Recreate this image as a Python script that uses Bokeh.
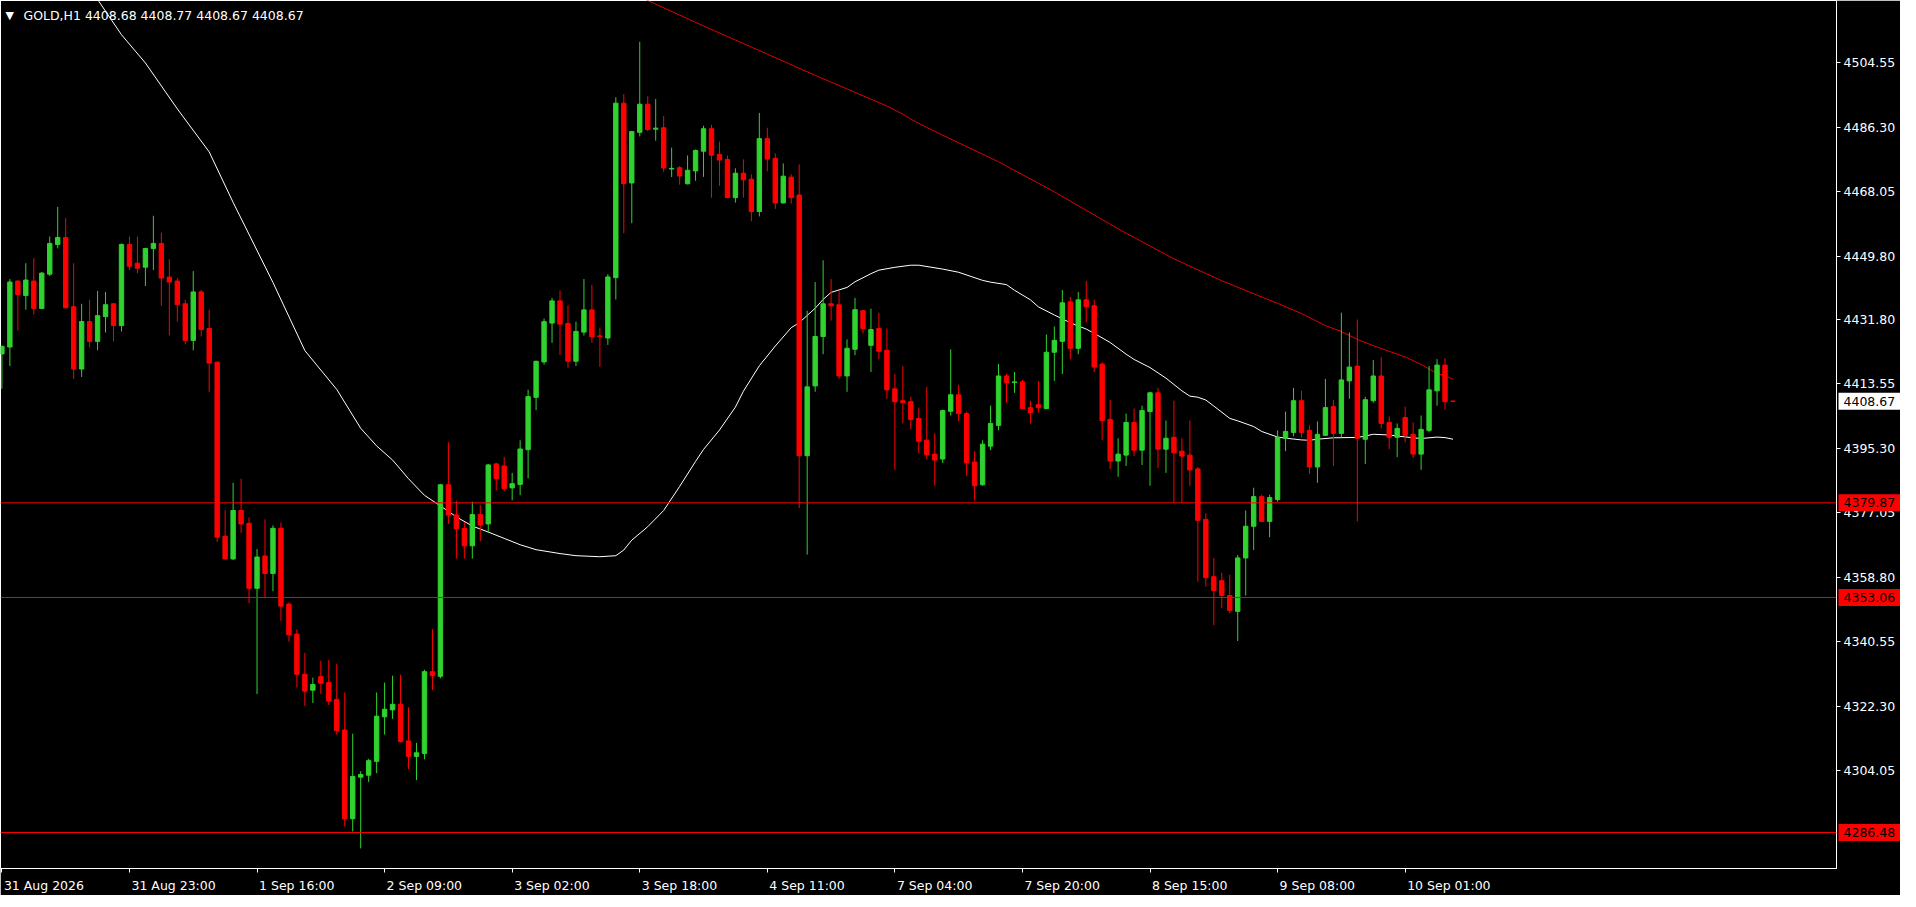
from bokeh.plotting import figure
from bokeh.layouts import row
from bokeh.models import (ColumnDataSource, FixedTicker, Range1d, Label, Span,
                          PrintfTickFormatter)
from bokeh.core.properties import value
from bokeh.embed import file_html
from bokeh.resources import INLINE

# ---------------- data ----------------
symbol_title = "GOLD,H1  4408.68 4408.77 4408.67 4408.67"

opens = [4422.07, 4424.03, 4442.71, 4438.60, 4442.71, 4434.96, 4444.67, 4453.08, 4455.04, 4435.43,
         4417.78, 4431.23, 4425.62, 4432.63, 4436.27, 4430.10, 4453.08, 4447.76, 4446.64, 4451.96,
         4453.36, 4443.83, 4442.71, 4436.27, 4425.90, 4439.63, 4429.26, 4419.74, 4370.42, 4363.98,
         4377.70, 4374.06, 4355.66, 4364.81, 4359.86, 4372.66, 4351.18, 4342.68, 4331.29, 4326.80,
         4330.63, 4328.95, 4324.19, 4315.50, 4290.38, 4302.15, 4302.71, 4306.63, 4319.24, 4321.20,
         4322.79, 4312.42, 4308.03, 4308.87, 4332.03, 4330.72, 4384.99, 4376.46, 4372.62, 4367.71,
         4376.55, 4373.90, 4390.90, 4390.31, 4384.12, 4385.10, 4394.93, 4409.77, 4419.80, 4430.80,
         4437.09, 4430.71, 4419.99, 4428.25, 4434.54, 4427.17, 4426.58, 4443.68, 4493.11, 4470.51,
         4484.86, 4492.82, 4485.74, 4486.14, 4474.44, 4474.83, 4470.27, 4473.91, 4479.51, 4485.86,
         4478.58, 4477.18, 4466.34, 4473.26, 4471.57, 4462.42, 4483.06, 4477.46, 4464.85, 4472.14,
         4467.09, 4393.21, 4413.00, 4427.00, 4436.27, 4435.99, 4415.82, 4423.38, 4434.31, 4424.50,
         4429.27, 4423.10, 4412.17, 4408.81, 4408.53, 4403.77, 4397.61, 4393.68, 4392.28, 4405.83,
         4410.49, 4405.17, 4391.44, 4385.00, 4395.93, 4401.81, 4415.82, 4413.95, 4414.14, 4406.85,
         4407.69, 4406.57, 4422.54, 4425.63, 4436.83, 4423.66, 4437.39, 4435.71, 4419.18, 4403.49,
         4391.72, 4393.40, 4402.65, 4394.80, 4405.73, 4411.05, 4395.08, 4398.44, 4394.52, 4393.40,
         4389.48, 4375.19, 4358.94, 4357.82, 4353.61, 4349.13, 4364.26, 4373.23, 4381.63, 4374.63,
         4380.79, 4398.16, 4399.84, 4408.81, 4400.40, 4390.04, 4399.00, 4407.13, 4399.56, 4414.42,
         4418.62, 4397.88, 4408.81, 4415.81, 4402.65, 4398.44, 4404.05, 4399.28, 4393.68, 4400.40,
         4411.61, 4418.90, 4408.68]
highs = [4424.40, 4443.27, 4442.90, 4447.76, 4449.16, 4445.24, 4455.32, 4463.73, 4460.65, 4447.76,
         4436.27, 4437.39, 4439.91, 4439.63, 4436.40, 4453.36, 4455.32, 4455.32, 4452.10, 4461.21,
         4456.44, 4448.88, 4443.55, 4437.39, 4445.52, 4440.19, 4434.59, 4419.90, 4377.71, 4385.55,
         4386.67, 4375.74, 4366.78, 4375.18, 4373.50, 4374.34, 4351.65, 4344.08, 4337.36, 4330.35,
         4335.11, 4335.39, 4334.27, 4326.15, 4314.47, 4303.83, 4307.38, 4326.15, 4328.95, 4330.91,
         4331.19, 4321.95, 4311.86, 4332.59, 4344.08, 4385.27, 4397.04, 4380.48, 4374.39, 4380.19,
         4379.31, 4390.90, 4391.20, 4392.87, 4388.35, 4397.58, 4411.94, 4420.10, 4432.08, 4437.98,
         4440.04, 4435.82, 4431.20, 4443.29, 4441.61, 4429.53, 4444.66, 4494.78, 4495.67, 4485.15,
         4510.51, 4495.08, 4494.29, 4489.48, 4480.53, 4475.32, 4478.30, 4479.98, 4486.70, 4486.98,
         4482.22, 4478.30, 4474.66, 4477.18, 4472.98, 4490.35, 4486.14, 4478.86, 4476.06, 4472.98,
         4475.78, 4434.31, 4442.43, 4448.60, 4443.27, 4439.91, 4426.18, 4437.95, 4434.59, 4434.87,
         4433.75, 4429.27, 4416.38, 4418.62, 4409.93, 4406.85, 4412.74, 4399.57, 4406.29, 4423.38,
         4413.30, 4405.73, 4394.52, 4397.61, 4407.41, 4419.18, 4416.38, 4416.94, 4414.70, 4408.81,
         4414.42, 4427.59, 4429.83, 4440.20, 4438.23, 4439.64, 4442.72, 4437.39, 4419.74, 4409.09,
         4398.17, 4405.17, 4406.57, 4407.41, 4411.34, 4412.46, 4403.21, 4408.81, 4398.16, 4403.21,
         4390.04, 4376.87, 4364.26, 4360.06, 4359.50, 4365.10, 4377.71, 4384.15, 4382.19, 4382.19,
         4400.41, 4405.73, 4412.45, 4411.61, 4401.81, 4402.93, 4414.98, 4409.09, 4433.75, 4428.14,
         4431.79, 4409.93, 4420.30, 4421.14, 4404.33, 4402.37, 4407.13, 4402.65, 4404.61, 4418.62,
         4420.58, 4420.86, 4408.77]
lows = [4412.17, 4418.62, 4428.70, 4434.59, 4433.19, 4434.80, 4444.11, 4451.96, 4434.96, 4414.98,
        4415.54, 4423.94, 4423.10, 4428.14, 4425.62, 4428.42, 4445.80, 4444.96, 4441.31, 4445.80,
        4435.71, 4427.30, 4431.23, 4424.78, 4423.10, 4427.02, 4411.33, 4368.74, 4363.90, 4363.70,
        4371.35, 4351.46, 4325.68, 4353.14, 4354.82, 4346.42, 4340.53, 4327.55, 4322.32, 4323.16,
        4325.68, 4322.60, 4314.19, 4288.14, 4286.74, 4281.97, 4300.74, 4303.27, 4314.19, 4318.68,
        4311.95, 4304.39, 4301.30, 4307.19, 4326.80, 4330.16, 4373.87, 4364.07, 4364.07, 4364.07,
        4368.99, 4371.35, 4383.43, 4383.14, 4380.58, 4382.06, 4386.78, 4406.13, 4419.01, 4425.20,
        4421.76, 4418.13, 4418.62, 4427.27, 4425.20, 4418.42, 4424.61, 4437.49, 4456.26, 4459.11,
        4483.68, 4485.15, 4482.50, 4473.65, 4472.18, 4470.02, 4470.10, 4471.11, 4472.23, 4466.34,
        4469.71, 4466.20, 4464.94, 4466.34, 4459.62, 4461.02, 4473.82, 4463.17, 4464.70, 4464.66,
        4378.37, 4365.20, 4411.33, 4421.98, 4431.51, 4414.98, 4411.33, 4421.70, 4427.86, 4416.94,
        4420.58, 4409.37, 4389.20, 4402.37, 4400.69, 4393.96, 4392.28, 4384.72, 4391.16, 4404.61,
        4402.93, 4387.52, 4380.52, 4384.72, 4394.80, 4400.41, 4408.25, 4411.05, 4406.50, 4402.37,
        4405.45, 4406.50, 4414.42, 4416.38, 4420.58, 4421.98, 4430.95, 4416.94, 4397.61, 4389.48,
        4387.24, 4390.32, 4393.12, 4390.60, 4384.72, 4389.76, 4388.36, 4379.95, 4379.95, 4384.71,
        4357.54, 4356.13, 4345.21, 4349.97, 4348.57, 4340.72, 4353.61, 4366.50, 4374.50, 4370.14,
        4380.23, 4394.52, 4398.72, 4398.44, 4388.08, 4385.55, 4398.90, 4390.32, 4398.44, 4409.37,
        4374.63, 4390.88, 4408.25, 4400.96, 4395.08, 4392.84, 4397.04, 4392.56, 4389.20, 4399.84,
        4407.41, 4406.29, 4408.67]
closes = [4424.22, 4442.43, 4438.88, 4443.00, 4434.96, 4444.96, 4453.36, 4455.04, 4435.15, 4417.78,
          4431.23, 4425.62, 4432.91, 4436.00, 4430.10, 4453.08, 4446.92, 4446.36, 4451.96, 4453.36,
          4443.55, 4442.43, 4436.00, 4425.90, 4439.63, 4428.98, 4419.46, 4370.14, 4363.98, 4377.71,
          4373.87, 4355.66, 4364.53, 4359.86, 4372.66, 4350.62, 4342.49, 4331.29, 4326.52, 4328.39,
          4328.76, 4323.72, 4315.32, 4290.38, 4302.33, 4302.89, 4306.82, 4319.42, 4321.39, 4322.79,
          4312.23, 4308.03, 4309.06, 4332.03, 4330.91, 4384.99, 4376.40, 4372.52, 4367.71, 4376.55,
          4373.60, 4390.61, 4386.78, 4383.92, 4385.30, 4395.13, 4409.97, 4419.99, 4431.20, 4437.09,
          4430.51, 4419.99, 4428.45, 4434.54, 4426.87, 4426.97, 4443.88, 4493.11, 4470.31, 4485.05,
          4492.82, 4485.64, 4486.04, 4474.74, 4474.64, 4472.47, 4474.10, 4479.70, 4485.86, 4478.39,
          4476.99, 4466.34, 4473.26, 4471.39, 4462.42, 4483.06, 4477.27, 4464.85, 4472.42, 4466.34,
          4393.21, 4412.73, 4427.00, 4436.27, 4435.71, 4415.82, 4423.66, 4434.59, 4429.27, 4428.98,
          4422.82, 4411.89, 4408.53, 4408.25, 4403.49, 4397.33, 4393.50, 4392.00, 4406.01, 4410.49,
          4405.17, 4391.16, 4384.72, 4396.49, 4402.37, 4415.82, 4413.86, 4414.14, 4406.57, 4405.45,
          4406.85, 4422.54, 4425.91, 4436.55, 4423.66, 4437.39, 4435.43, 4418.34, 4403.21, 4391.72,
          4393.68, 4402.65, 4394.80, 4406.01, 4411.05, 4395.08, 4398.17, 4394.05, 4393.12, 4389.20,
          4374.91, 4358.66, 4355.01, 4353.61, 4349.41, 4364.26, 4373.23, 4381.63, 4374.63, 4381.35,
          4398.44, 4400.12, 4408.81, 4399.84, 4390.04, 4399.28, 4406.85, 4399.56, 4414.69, 4418.34,
          4398.16, 4409.09, 4415.81, 4402.37, 4398.44, 4400.96, 4399.00, 4393.68, 4400.68, 4411.89,
          4418.90, 4408.53, 4408.67]

# fast moving average (white), read at bar indices
ma_fast_bars = [12, 15, 18, 22, 26, 29, 34, 38, 42, 45, 47, 49, 51, 53, 55, 57, 59, 61, 63, 65,
                67, 70, 72, 75, 77, 78, 79, 81, 83, 85, 87, 88, 90, 92, 93, 95, 97, 99, 100, 102,
                103, 104, 106, 107, 109, 110, 112, 114, 115, 118, 120, 123, 124, 126, 127, 129, 130,
                132, 134, 136, 137, 139, 141, 142, 144, 146, 148, 149, 150, 151, 152, 154, 155, 157,
                158, 160, 161, 163, 164, 165, 167, 170, 171, 172, 174, 175, 177, 178, 180, 181, 182]
ma_fast_vals = [4522.5, 4512.5, 4504.5, 4491.5, 4479.3, 4465.0, 4442.3, 4423.0, 4412.0, 4401.0,
                4396.0, 4392.0, 4386.7, 4382.0, 4379.0, 4375.9, 4373.3, 4371.6, 4369.8, 4368.0,
                4366.6, 4365.5, 4364.9, 4364.6, 4364.9, 4366.5, 4369.3, 4373.1, 4377.7, 4384.5,
                4391.6, 4395.0, 4400.5, 4407.0, 4411.5, 4418.7, 4424.3, 4429.5, 4430.9, 4435.0,
                4437.5, 4439.5, 4440.9, 4442.5, 4444.8, 4445.8, 4446.6, 4447.2, 4447.2, 4446.1,
                4445.2, 4442.9, 4442.4, 4441.7, 4440.1, 4437.4, 4435.4, 4433.1, 4430.9, 4429.1,
                4427.9, 4425.3, 4422.0, 4420.5, 4418.2, 4415.2, 4411.6, 4410.1, 4409.8, 4409.0,
                4407.3, 4403.8, 4403.1, 4401.5, 4400.1, 4398.5, 4398.2, 4397.7, 4397.6, 4397.9,
                4398.3, 4398.4, 4398.8, 4399.3, 4399.1, 4398.8, 4398.3, 4398.1, 4398.5, 4398.35,
                4397.9]
# slow moving average (red)
ma_slow_bars = [79, 81, 87, 95, 102, 108, 111, 113, 114, 116, 125, 132, 140, 147, 153, 158, 160,
                163, 166, 168, 170, 172, 174, 176, 178, 180, 181, 182]
ma_slow_vals = [4525.0, 4522.2, 4516.0, 4508.0, 4501.0, 4495.2, 4492.3, 4490.0, 4488.6, 4486.2,
                4476.5, 4468.0, 4457.5, 4449.0, 4442.8, 4438.2, 4436.4, 4433.5, 4430.1, 4428.4,
                4426.2, 4424.4, 4422.8, 4421.2, 4419.1, 4416.5, 4415.9, 4414.9]

price_ticks = [4504.55, 4486.30, 4468.05, 4449.80, 4431.80, 4413.55, 4395.30, 4377.05,
               4358.80, 4340.55, 4322.30, 4304.05]
time_tick_bars = [0, 16, 32, 48, 64, 80, 96, 112, 128, 144, 160, 176]
time_tick_labels = ["31 Aug 2026", "31 Aug 23:00", "1 Sep 16:00", "2 Sep 09:00", "3 Sep 02:00",
                    "3 Sep 18:00", "4 Sep 11:00", "7 Sep 04:00", "7 Sep 20:00", "8 Sep 15:00",
                    "9 Sep 08:00", "10 Sep 01:00"]
level_lines = [4379.87, 4353.06, 4286.48]
bid_price = 4408.67
price_min, price_max = 4276.27, 4522.20
bar_min, bar_max = -0.175, 230.1

# ---------------- styling / layout ----------------
FW, FH = 1836, 868       # plot frame
RW = 64                  # price-scale strip to the right of the frame
FONT = "DejaVu Sans"
FS = "12.5px"
BULL = "#2FD22F"
BEAR = "#FF0000"

bars = list(range(len(opens)))
colors = [BULL if c > o else BEAR for o, c in zip(opens, closes)]
tops = [max(o, c) for o, c in zip(opens, closes)]
bottoms = [min(o, c) for o, c in zip(opens, closes)]
src = ColumnDataSource(dict(x=bars, h=highs, l=lows, top=tops, bottom=bottoms, color=colors))

yr = Range1d(price_min, price_max)
p = figure(frame_width=FW, frame_height=FH,
           x_range=Range1d(bar_min, bar_max), y_range=yr,
           y_axis_location="right", output_backend="svg", toolbar_location=None,
           background_fill_color="black", border_fill_color="black",
           outline_line_color="white", outline_line_width=1,
           min_border_left=0, min_border_top=0, min_border_right=RW, min_border_bottom=21)
p.xgrid.visible = False
p.ygrid.visible = False

for lv in level_lines:
    p.add_layout(Span(location=lv, dimension="width", line_color="#FF0000", line_width=1))

p.line(ma_slow_bars, ma_slow_vals, line_color="#E00000", line_width=1)
p.line(ma_fast_bars, ma_fast_vals, line_color="white", line_width=1)

p.segment(x0="x", y0="h", x1="x", y1="l", line_color="color", line_width=1, source=src)
p.vbar(x="x", width=0.55, top="top", bottom="bottom", fill_color="color",
       line_color="color", line_width=1, source=src)

# right price axis
ya = p.yaxis[0]
ya.ticker = FixedTicker(ticks=price_ticks)
ya.formatter = PrintfTickFormatter(format="%.2f")
ya.major_tick_in = 0
ya.major_tick_out = 4
ya.minor_tick_line_color = None
ya.axis_line_color = "white"
ya.major_tick_line_color = "white"
ya.major_label_text_color = "white"
ya.major_label_text_font = FONT
ya.major_label_text_font_size = FS
ya.major_label_standoff = 3

# bottom time axis: ticks (minor) at the bars, labels shifted so they start at the tick
px_per_bar = FW / (bar_max - bar_min)
cw = {" ": 0.318, ":": 0.337, "A": 0.684, "S": 0.635, "u": 0.634, "g": 0.635, "e": 0.615, "p": 0.635}


def text_width(s):
    return sum(cw.get(ch, 0.636) for ch in s) * 12.5


label_pos = [b + (text_width(s) / 2 + 2) / px_per_bar for b, s in zip(time_tick_bars, time_tick_labels)]
xa = p.xaxis[0]
xa.ticker = FixedTicker(ticks=label_pos, minor_ticks=time_tick_bars)
xa.major_label_overrides = {pos: s for pos, s in zip(label_pos, time_tick_labels)}
xa.major_tick_in = 0
xa.major_tick_out = 0
xa.minor_tick_in = 0
xa.minor_tick_out = 4
xa.minor_tick_line_color = "white"
xa.axis_line_color = "white"
xa.major_label_text_color = "white"
xa.major_label_text_font = FONT
xa.major_label_text_font_size = FS
xa.major_label_standoff = 5

# title
p.add_layout(Label(x=5, y=FH - 8, x_units="screen", y_units="screen", text="\u25bc",
                   text_color="white", text_font=FONT, text_font_size="11px", text_baseline="top"))
p.add_layout(Label(x=23, y=FH - 7, x_units="screen", y_units="screen", text=symbol_title,
                   text_color="white", text_font=FONT, text_font_size=FS, text_baseline="top"))

# price boxes: a transparent strip laid over the price scale, sharing the price range
side = figure(frame_width=RW, frame_height=FH, x_range=Range1d(0, RW), y_range=yr,
              x_axis_type=None, y_axis_type=None, output_backend="svg", toolbar_location=None,
              min_border_left=0, min_border_right=0, min_border_top=0, min_border_bottom=0,
              background_fill_alpha=0, border_fill_alpha=0, outline_line_color=None,
              margin=(0, 0, 0, -RW))
side.grid.visible = False
box_x = [33] * len(level_lines)
side.rect(x=box_x, y=level_lines, width=62, height=17, width_units="screen", height_units="screen",
          fill_color="#FF0000", line_color=None)
side.text(x=[7] * len(level_lines), y=level_lines, text=[f"{v:.2f}" for v in level_lines],
          text_color="black", text_font=value(FONT), text_font_size=FS,
          text_baseline="middle", text_align="left")
side.rect(x=[33], y=[bid_price], width=62, height=17, width_units="screen", height_units="screen",
          fill_color="white", line_color=None)
side.text(x=[7], y=[bid_price], text=[f"{bid_price:.2f}"],
          text_color="black", text_font=value(FONT), text_font_size=FS,
          text_baseline="middle", text_align="left")

layout = row(p, side, spacing=0)
open("out.html", "w").write(file_html(layout, INLINE))
